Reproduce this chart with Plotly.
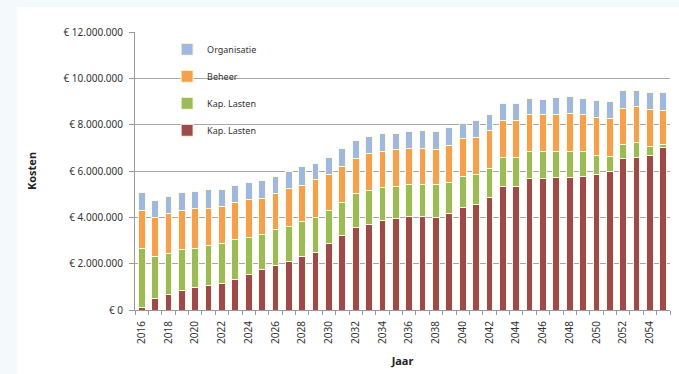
import plotly.graph_objects as go

# Yearly costs per cost type (euro)
years = list(range(2016, 2056))

kap_lasten_rood = [
    110000, 500000, 670000, 830000, 960000, 1040000, 1140000, 1310000, 1530000, 1760000,
    1930000, 2110000, 2290000, 2470000, 2860000, 3210000, 3570000, 3710000, 3860000, 3930000,
    4030000, 4030000, 4000000, 4170000, 4430000, 4540000, 4860000, 5330000, 5310000, 5670000,
    5670000, 5710000, 5740000, 5770000, 5860000, 5960000, 6530000, 6600000, 6670000, 7000000,
]
kap_lasten_groen = [
    2530000, 1810000, 1760000, 1800000, 1680000, 1750000, 1750000, 1730000, 1610000, 1480000,
    1530000, 1500000, 1550000, 1530000, 1430000, 1430000, 1460000, 1460000, 1430000, 1380000,
    1370000, 1400000, 1400000, 1340000, 1340000, 1320000, 1250000, 1240000, 1260000, 1160000,
    1160000, 1150000, 1120000, 1060000, 830000, 680000, 610000, 610000, 400000, 140000,
]
beheer = [
    1650000, 1690000, 1740000, 1660000, 1720000, 1610000, 1580000, 1600000, 1620000, 1590000,
    1580000, 1630000, 1550000, 1640000, 1570000, 1560000, 1510000, 1570000, 1570000, 1600000,
    1570000, 1540000, 1540000, 1600000, 1620000, 1570000, 1630000, 1600000, 1600000, 1600000,
    1600000, 1600000, 1610000, 1600000, 1600000, 1620000, 1570000, 1560000, 1570000, 1470000,
]
organisatie = [
    780000, 740000, 730000, 780000, 740000, 790000, 720000, 750000, 750000, 780000,
    730000, 760000, 800000, 670000, 740000, 760000, 770000, 750000, 740000, 730000,
    740000, 770000, 770000, 780000, 680000, 760000, 720000, 760000, 760000, 710000,
    670000, 710000, 760000, 710000, 740000, 740000, 750000, 720000, 750000, 780000,
]

y_tickvals = [0, 2000000, 4000000, 6000000, 8000000, 10000000, 12000000]
y_ticktext = ["€ 0", "€ 2.000.000", "€ 4.000.000", "€ 6.000.000",
              "€ 8.000.000", "€ 10.000.000", "€ 12.000.000"]
x_tickvals = list(range(2016, 2056, 2))

# stacked bottom to top; legend lists them top to bottom
series = [
    ("Kap. Lasten", kap_lasten_rood, "#9E4A4C"),
    ("Kap. Lasten", kap_lasten_groen, "#9BBB59"),
    ("Beheer", beheer, "#F5A04E"),
    ("Organisatie", organisatie, "#9FB8DE"),
]

fig = go.Figure()
for i, (name, vals, color) in enumerate(series):
    fig.add_trace(go.Bar(
        x=years, y=vals, name=name, legendgroup=f"g{i}",
        legendrank=1000 - i,
        marker=dict(color=color, line=dict(color="#FFFBDD", width=1)),
    ))

fig.update_layout(
    width=679, height=374,
    barmode="stack", bargap=0.5,
    paper_bgcolor="#F4F9FC", plot_bgcolor="white",
    margin=dict(l=135, r=9, t=32, b=64),
    font=dict(family="Noto Sans, Liberation Sans, sans-serif", size=10, color="#333333"),
    legend=dict(
        x=0.06, y=0.99, xanchor="left", yanchor="top",
        traceorder="grouped", tracegroupgap=8,
        font=dict(size=9, color="#333333"), bgcolor="rgba(0,0,0,0)",
        itemwidth=30,
    ),
    shapes=[dict(type="rect", xref="paper", yref="paper", layer="below",
                 x0=-0.22, x1=1.02, y0=-0.25, y1=1.09,
                 fillcolor="white", line=dict(width=0))],
    yaxis=dict(
        range=[0, 12000000], tickvals=y_tickvals, ticktext=y_ticktext,
        showgrid=True, gridcolor="#A8A8A8", gridwidth=1,
        showline=True, linecolor="#9A9A9A", ticks="outside", ticklen=5,
        tickcolor="#9A9A9A", tickfont=dict(size=10, color="#333333"),
        ticklabelstandoff=4,
        title=dict(text="<b>Kosten</b>", font=dict(size=11, color="#222222"), standoff=24),
        zeroline=False,
    ),
    xaxis=dict(
        range=[2015.5, 2055.5], tickvals=x_tickvals, ticktext=[str(v) for v in x_tickvals],
        tickangle=-90, ticks="", showline=True, linecolor="#9A9A9A",
        tickfont=dict(size=10, color="#333333"), ticklabelstandoff=6,
        minor=dict(ticks="outside", tick0=2015.5, dtick=1, ticklen=4, tickcolor="#9A9A9A",
                   showgrid=False),
        title=dict(text="<b>Jaar</b>", font=dict(size=11, color="#222222"), standoff=14),
        showgrid=False,
    ),
)

fig.write_html("out.html")
